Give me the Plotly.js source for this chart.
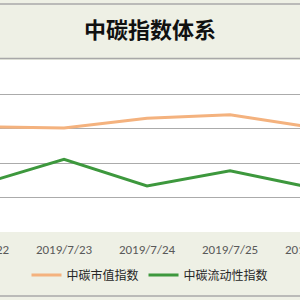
<!DOCTYPE html>
<html>
<head>
<meta charset="utf-8">
<script src="https://cdn.plot.ly/plotly-3.0.1.min.js"></script>
<style>
html,body{margin:0;padding:0;width:300px;height:300px;overflow:hidden;background:#EEF0E5;}
#chart{position:absolute;left:-60px;top:0;width:420px;height:300px;}
</style>
</head>
<body>
<div id="chart"></div>
<script>
const categories = ['2019/7/22', '2019/7/23', '2019/7/24', '2019/7/25', '2019/7/26'];
const marketValueIndex = [612, 604, 662, 682, 608];   // 中碳市值指数
const liquidityIndex = [278, 422, 268, 356, 256];     // 中碳流动性指数
const seriesNames = ['中碳市值指数', '中碳流动性指数'];
const chartTitle = '中碳指数体系';

const font = 'Calibri, Carlito, "Liberation Sans", "Noto Sans CJK SC", sans-serif';

const traces = [
  {x: categories, y: marketValueIndex, name: seriesNames[0], type: 'scatter', mode: 'lines',
   line: {color: '#F4B27E', width: 3}},
  {x: categories, y: liquidityIndex, name: seriesNames[1], type: 'scatter', mode: 'lines',
   line: {color: '#3D983D', width: 3}}
];

const layout = {
  width: 420, height: 300,
  margin: {l: 0, r: 0, t: 60, b: 68},
  paper_bgcolor: '#EEF0E5',
  plot_bgcolor: '#FFFFFF',
  title: {text: chartTitle, x: 0.5, xanchor: 'center', y: 0.9, yanchor: 'middle', yref: 'container',
          font: {family: '"Noto Sans CJK SC", sans-serif', size: 22, color: '#111111', weight: 700}},
  xaxis: {type: 'category', range: [-0.494, 4.566], showgrid: false, zeroline: false, showline: false,
          ticks: '', ticklabelstandoff: 8,
          tickfont: {family: font, size: 13, color: '#595959'}},
  yaxis: {range: [0, 1000], dtick: 200, showticklabels: false, showgrid: true, gridcolor: '#ABABAB',
          gridwidth: 1, zeroline: false, showline: false, fixedrange: true},
  showlegend: true,
  legend: {orientation: 'h', x: 0.5, xanchor: 'center', y: 0.083, yref: 'container', yanchor: 'middle',
           bgcolor: 'rgba(0,0,0,0)', font: {family: '"Noto Sans CJK SC", sans-serif', size: 12, color: '#262626'},
           itemwidth: 30, tracegroupgap: 0},
  shapes: [
    {type: 'line', xref: 'paper', yref: 'paper', x0: 0, x1: 1, y0: 1.3256, y1: 1.3256, line: {color: '#A8A8A8', width: 1.5}},
    {type: 'line', xref: 'paper', yref: 'paper', x0: 0, x1: 1, y0: 1.0087, y1: 1.0087, line: {color: '#A8A8A8', width: 1.5}},
    {type: 'line', xref: 'paper', yref: 'paper', x0: 0, x1: 1, y0: -0.372, y1: -0.372, line: {color: '#A8A8A8', width: 1.5}}
  ]
};

Plotly.newPlot('chart', traces, layout, {staticPlot: true, displayModeBar: false});
</script>
</body>
</html>
